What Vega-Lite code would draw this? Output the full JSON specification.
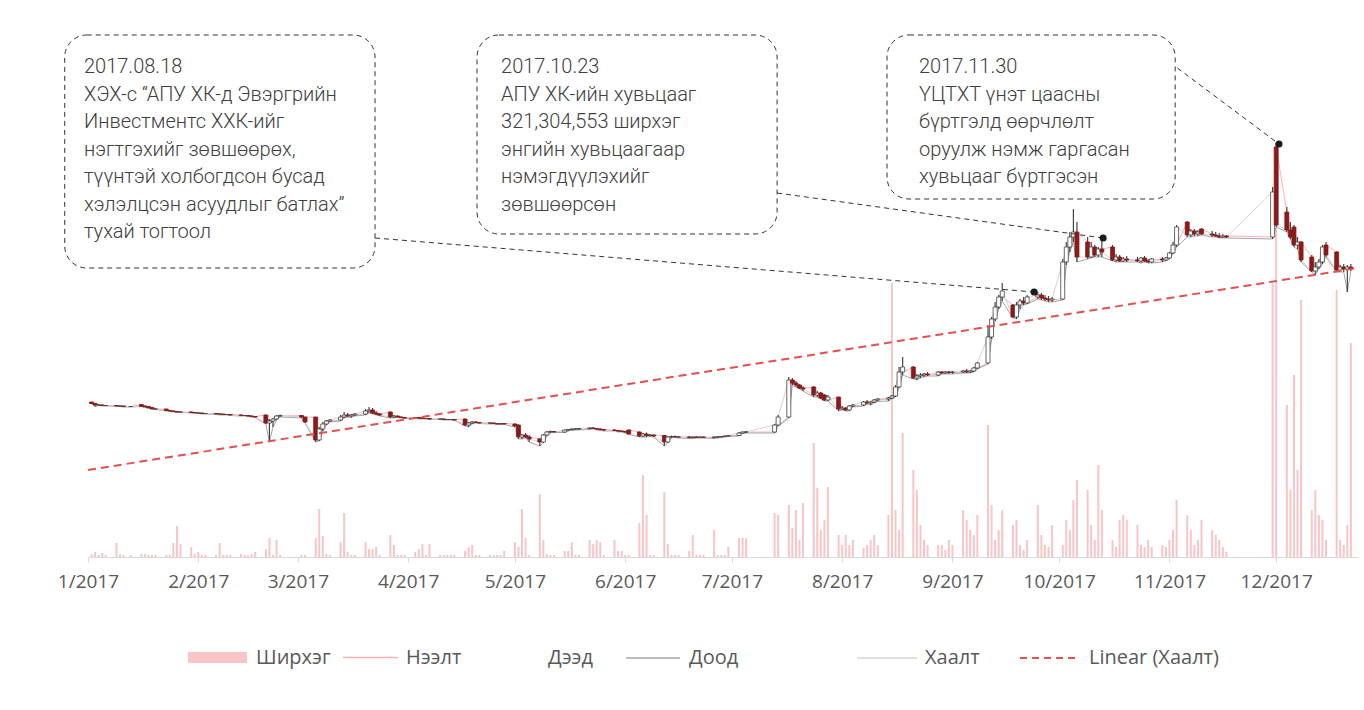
{
  "$schema": "https://vega.github.io/schema/vega-lite/v6.json",
  "autosize": {"type": "none"},
  "width": 1270,
  "height": 537,
  "padding": {"left": 88, "top": 20, "right": 6, "bottom": 153},
  "background": "#ffffff",
  "config": {"view": {"stroke": null}},
  "datasets": {
    "ohlc": [
      {"d":"2017-01-02","o":1550,"h":1550,"l":1530,"c":1535,"v":300},
      {"d":"2017-01-03","o":1535,"h":1540,"l":1505,"c":1520,"v":500},
      {"d":"2017-01-04","o":1520,"h":1530,"l":1515,"c":1520,"v":200},
      {"d":"2017-01-05","o":1520,"h":1525,"l":1510,"c":1515,"v":400},
      {"d":"2017-01-06","o":1515,"h":1520,"l":1510,"c":1515,"v":200},
      {"d":"2017-01-09","o":1515,"h":1520,"l":1505,"c":1510,"v":1400},
      {"d":"2017-01-10","o":1510,"h":1515,"l":1505,"c":1510,"v":300},
      {"d":"2017-01-11","o":1510,"h":1512,"l":1500,"c":1505,"v":200},
      {"d":"2017-01-13","o":1505,"h":1510,"l":1500,"c":1505,"v":200},
      {"d":"2017-01-16","o":1525,"h":1525,"l":1505,"c":1505,"v":300},
      {"d":"2017-01-17","o":1510,"h":1515,"l":1500,"c":1500,"v":300},
      {"d":"2017-01-18","o":1505,"h":1505,"l":1490,"c":1490,"v":200},
      {"d":"2017-01-19","o":1495,"h":1495,"l":1480,"c":1480,"v":200},
      {"d":"2017-01-20","o":1480,"h":1485,"l":1475,"c":1480,"v":200},
      {"d":"2017-01-23","o":1480,"h":1480,"l":1460,"c":1465,"v":200},
      {"d":"2017-01-24","o":1465,"h":1470,"l":1455,"c":1460,"v":200},
      {"d":"2017-01-25","o":1460,"h":1465,"l":1450,"c":1455,"v":1400},
      {"d":"2017-01-26","o":1455,"h":1460,"l":1445,"c":1450,"v":3100},
      {"d":"2017-01-27","o":1450,"h":1455,"l":1445,"c":1450,"v":1300},
      {"d":"2017-01-30","o":1450,"h":1455,"l":1440,"c":1445,"v":1000},
      {"d":"2017-01-31","o":1445,"h":1450,"l":1440,"c":1440,"v":300},
      {"d":"2017-02-01","o":1440,"h":1445,"l":1435,"c":1440,"v":500},
      {"d":"2017-02-02","o":1440,"h":1440,"l":1430,"c":1435,"v":200},
      {"d":"2017-02-03","o":1435,"h":1440,"l":1430,"c":1435,"v":200},
      {"d":"2017-02-06","o":1435,"h":1440,"l":1425,"c":1430,"v":200},
      {"d":"2017-02-07","o":1430,"h":1435,"l":1420,"c":1430,"v":1400},
      {"d":"2017-02-08","o":1430,"h":1430,"l":1420,"c":1425,"v":200},
      {"d":"2017-02-09","o":1425,"h":1430,"l":1420,"c":1425,"v":200},
      {"d":"2017-02-10","o":1425,"h":1425,"l":1415,"c":1420,"v":200},
      {"d":"2017-02-13","o":1420,"h":1425,"l":1410,"c":1415,"v":300},
      {"d":"2017-02-14","o":1415,"h":1420,"l":1410,"c":1415,"v":200},
      {"d":"2017-02-15","o":1415,"h":1420,"l":1405,"c":1410,"v":200},
      {"d":"2017-02-16","o":1410,"h":1415,"l":1400,"c":1405,"v":300},
      {"d":"2017-02-17","o":1405,"h":1410,"l":1395,"c":1400,"v":500},
      {"d":"2017-02-20","o":1420,"h":1425,"l":1330,"c":1340,"v":800},
      {"d":"2017-02-21","o":1340,"h":1380,"l":1150,"c":1360,"v":1900},
      {"d":"2017-02-22","o":1360,"h":1390,"l":1300,"c":1380,"v":200},
      {"d":"2017-02-23","o":1380,"h":1420,"l":1370,"c":1410,"v":1700},
      {"d":"2017-02-24","o":1410,"h":1425,"l":1400,"c":1415,"v":200},
      {"d":"2017-03-02","o":1415,"h":1420,"l":1390,"c":1400,"v":200},
      {"d":"2017-03-03","o":1400,"h":1400,"l":1340,"c":1350,"v":200},
      {"d":"2017-03-06","o":1400,"h":1400,"l":1150,"c":1170,"v":1900},
      {"d":"2017-03-07","o":1170,"h":1300,"l":1160,"c":1280,"v":4800},
      {"d":"2017-03-08","o":1280,"h":1350,"l":1260,"c":1330,"v":2100},
      {"d":"2017-03-09","o":1330,"h":1370,"l":1320,"c":1360,"v":300},
      {"d":"2017-03-10","o":1360,"h":1380,"l":1350,"c":1370,"v":200},
      {"d":"2017-03-13","o":1370,"h":1420,"l":1360,"c":1400,"v":1500},
      {"d":"2017-03-14","o":1400,"h":1450,"l":1390,"c":1420,"v":4400},
      {"d":"2017-03-15","o":1420,"h":1440,"l":1400,"c":1410,"v":500},
      {"d":"2017-03-16","o":1410,"h":1430,"l":1395,"c":1420,"v":200},
      {"d":"2017-03-17","o":1420,"h":1440,"l":1410,"c":1430,"v":200},
      {"d":"2017-03-20","o":1430,"h":1480,"l":1420,"c":1460,"v":1500},
      {"d":"2017-03-21","o":1460,"h":1500,"l":1440,"c":1470,"v":800},
      {"d":"2017-03-22","o":1470,"h":1490,"l":1430,"c":1440,"v":800},
      {"d":"2017-03-23","o":1440,"h":1460,"l":1420,"c":1430,"v":1000},
      {"d":"2017-03-24","o":1430,"h":1440,"l":1410,"c":1420,"v":200},
      {"d":"2017-03-27","o":1450,"h":1455,"l":1390,"c":1400,"v":2200},
      {"d":"2017-03-28","o":1400,"h":1420,"l":1390,"c":1410,"v":1200},
      {"d":"2017-03-29","o":1410,"h":1415,"l":1395,"c":1400,"v":200},
      {"d":"2017-03-30","o":1400,"h":1405,"l":1390,"c":1395,"v":200},
      {"d":"2017-03-31","o":1395,"h":1400,"l":1385,"c":1390,"v":200},
      {"d":"2017-04-03","o":1390,"h":1400,"l":1385,"c":1395,"v":500},
      {"d":"2017-04-04","o":1395,"h":1400,"l":1380,"c":1390,"v":800},
      {"d":"2017-04-05","o":1390,"h":1395,"l":1380,"c":1385,"v":1300},
      {"d":"2017-04-06","o":1385,"h":1390,"l":1380,"c":1385,"v":200},
      {"d":"2017-04-07","o":1385,"h":1390,"l":1375,"c":1380,"v":1300},
      {"d":"2017-04-10","o":1380,"h":1385,"l":1375,"c":1380,"v":200},
      {"d":"2017-04-11","o":1380,"h":1385,"l":1370,"c":1375,"v":200},
      {"d":"2017-04-12","o":1375,"h":1380,"l":1370,"c":1375,"v":200},
      {"d":"2017-04-13","o":1375,"h":1380,"l":1370,"c":1375,"v":200},
      {"d":"2017-04-14","o":1375,"h":1380,"l":1365,"c":1370,"v":200},
      {"d":"2017-04-17","o":1380,"h":1385,"l":1310,"c":1320,"v":600},
      {"d":"2017-04-18","o":1320,"h":1350,"l":1300,"c":1340,"v":1000},
      {"d":"2017-04-19","o":1340,"h":1360,"l":1330,"c":1350,"v":1200},
      {"d":"2017-04-20","o":1350,"h":1360,"l":1340,"c":1345,"v":200},
      {"d":"2017-04-21","o":1345,"h":1350,"l":1335,"c":1340,"v":200},
      {"d":"2017-04-24","o":1340,"h":1345,"l":1330,"c":1340,"v":200},
      {"d":"2017-04-25","o":1340,"h":1345,"l":1330,"c":1335,"v":200},
      {"d":"2017-04-26","o":1335,"h":1340,"l":1325,"c":1330,"v":200},
      {"d":"2017-04-27","o":1330,"h":1340,"l":1325,"c":1335,"v":200},
      {"d":"2017-04-28","o":1335,"h":1340,"l":1325,"c":1330,"v":600},
      {"d":"2017-05-01","o":1330,"h":1335,"l":1300,"c":1310,"v":1500},
      {"d":"2017-05-02","o":1320,"h":1325,"l":1180,"c":1200,"v":1000},
      {"d":"2017-05-03","o":1200,"h":1230,"l":1180,"c":1220,"v":4800},
      {"d":"2017-05-04","o":1220,"h":1240,"l":1190,"c":1200,"v":1900},
      {"d":"2017-05-05","o":1200,"h":1220,"l":1150,"c":1180,"v":200},
      {"d":"2017-05-08","o":1180,"h":1190,"l":1110,"c":1150,"v":6300},
      {"d":"2017-05-09","o":1150,"h":1230,"l":1140,"c":1220,"v":1700},
      {"d":"2017-05-10","o":1220,"h":1260,"l":1210,"c":1250,"v":300},
      {"d":"2017-05-11","o":1250,"h":1265,"l":1240,"c":1255,"v":200},
      {"d":"2017-05-12","o":1255,"h":1260,"l":1245,"c":1250,"v":200},
      {"d":"2017-05-15","o":1250,"h":1275,"l":1245,"c":1270,"v":600},
      {"d":"2017-05-16","o":1270,"h":1280,"l":1260,"c":1275,"v":600},
      {"d":"2017-05-17","o":1275,"h":1285,"l":1265,"c":1280,"v":1500},
      {"d":"2017-05-18","o":1280,"h":1285,"l":1270,"c":1280,"v":200},
      {"d":"2017-05-19","o":1280,"h":1290,"l":1270,"c":1285,"v":200},
      {"d":"2017-05-22","o":1285,"h":1295,"l":1275,"c":1290,"v":1700},
      {"d":"2017-05-23","o":1290,"h":1300,"l":1280,"c":1285,"v":1300},
      {"d":"2017-05-24","o":1285,"h":1290,"l":1270,"c":1280,"v":1700},
      {"d":"2017-05-25","o":1280,"h":1285,"l":1265,"c":1275,"v":1500},
      {"d":"2017-05-26","o":1275,"h":1280,"l":1260,"c":1270,"v":200},
      {"d":"2017-05-29","o":1270,"h":1280,"l":1260,"c":1265,"v":1700},
      {"d":"2017-05-30","o":1265,"h":1270,"l":1250,"c":1260,"v":600},
      {"d":"2017-05-31","o":1260,"h":1265,"l":1250,"c":1255,"v":600},
      {"d":"2017-06-01","o":1255,"h":1260,"l":1240,"c":1250,"v":200},
      {"d":"2017-06-02","o":1270,"h":1275,"l":1225,"c":1230,"v":200},
      {"d":"2017-06-05","o":1250,"h":1255,"l":1200,"c":1210,"v":3400},
      {"d":"2017-06-06","o":1210,"h":1240,"l":1200,"c":1230,"v":8200},
      {"d":"2017-06-07","o":1230,"h":1245,"l":1200,"c":1215,"v":4200},
      {"d":"2017-06-08","o":1215,"h":1230,"l":1205,"c":1220,"v":200},
      {"d":"2017-06-09","o":1220,"h":1225,"l":1200,"c":1210,"v":200},
      {"d":"2017-06-12","o":1215,"h":1220,"l":1110,"c":1150,"v":6500},
      {"d":"2017-06-13","o":1150,"h":1210,"l":1140,"c":1200,"v":1300},
      {"d":"2017-06-14","o":1200,"h":1215,"l":1190,"c":1205,"v":200},
      {"d":"2017-06-15","o":1205,"h":1215,"l":1195,"c":1200,"v":200},
      {"d":"2017-06-16","o":1200,"h":1210,"l":1190,"c":1200,"v":200},
      {"d":"2017-06-19","o":1200,"h":1210,"l":1185,"c":1195,"v":600},
      {"d":"2017-06-20","o":1195,"h":1205,"l":1185,"c":1200,"v":2200},
      {"d":"2017-06-21","o":1200,"h":1210,"l":1190,"c":1195,"v":200},
      {"d":"2017-06-22","o":1195,"h":1205,"l":1190,"c":1200,"v":200},
      {"d":"2017-06-23","o":1200,"h":1205,"l":1190,"c":1195,"v":200},
      {"d":"2017-06-26","o":1195,"h":1205,"l":1185,"c":1200,"v":2700},
      {"d":"2017-06-27","o":1200,"h":1210,"l":1190,"c":1200,"v":200},
      {"d":"2017-06-28","o":1200,"h":1210,"l":1195,"c":1205,"v":200},
      {"d":"2017-06-29","o":1205,"h":1215,"l":1200,"c":1210,"v":200},
      {"d":"2017-06-30","o":1210,"h":1220,"l":1205,"c":1215,"v":1000},
      {"d":"2017-07-03","o":1215,"h":1250,"l":1210,"c":1240,"v":1900},
      {"d":"2017-07-04","o":1240,"h":1255,"l":1235,"c":1250,"v":1900},
      {"d":"2017-07-05","o":1250,"h":1260,"l":1240,"c":1250,"v":1900},
      {"d":"2017-07-13","o":1250,"h":1330,"l":1240,"c":1320,"v":4400},
      {"d":"2017-07-14","o":1320,"h":1420,"l":1310,"c":1400,"v":4200},
      {"d":"2017-07-17","o":1400,"h":1800,"l":1390,"c":1770,"v":5200},
      {"d":"2017-07-18","o":1770,"h":1790,"l":1720,"c":1740,"v":2900},
      {"d":"2017-07-19","o":1740,"h":1760,"l":1700,"c":1720,"v":4700},
      {"d":"2017-07-20","o":1720,"h":1730,"l":1680,"c":1690,"v":1700},
      {"d":"2017-07-21","o":1690,"h":1710,"l":1660,"c":1680,"v":5400},
      {"d":"2017-07-24","o":1700,"h":1710,"l":1600,"c":1620,"v":11400},
      {"d":"2017-07-25","o":1620,"h":1660,"l":1600,"c":1640,"v":6900},
      {"d":"2017-07-26","o":1640,"h":1650,"l":1580,"c":1590,"v":2700},
      {"d":"2017-07-27","o":1620,"h":1630,"l":1560,"c":1570,"v":3700},
      {"d":"2017-07-28","o":1570,"h":1620,"l":1560,"c":1600,"v":7000},
      {"d":"2017-07-31","o":1600,"h":1600,"l":1460,"c":1480,"v":2200},
      {"d":"2017-08-01","o":1480,"h":1510,"l":1470,"c":1490,"v":1200},
      {"d":"2017-08-02","o":1490,"h":1500,"l":1460,"c":1470,"v":2200},
      {"d":"2017-08-03","o":1470,"h":1520,"l":1460,"c":1510,"v":1200},
      {"d":"2017-08-04","o":1510,"h":1530,"l":1500,"c":1520,"v":1700},
      {"d":"2017-08-07","o":1520,"h":1560,"l":1510,"c":1550,"v":900},
      {"d":"2017-08-08","o":1550,"h":1570,"l":1530,"c":1540,"v":1200},
      {"d":"2017-08-09","o":1540,"h":1560,"l":1520,"c":1550,"v":1700},
      {"d":"2017-08-10","o":1550,"h":1580,"l":1540,"c":1570,"v":2200},
      {"d":"2017-08-11","o":1570,"h":1590,"l":1555,"c":1580,"v":1200},
      {"d":"2017-08-14","o":1580,"h":1600,"l":1560,"c":1590,"v":4200},
      {"d":"2017-08-15","o":1590,"h":1620,"l":1580,"c":1610,"v":27400},
      {"d":"2017-08-16","o":1610,"h":1720,"l":1600,"c":1700,"v":4700},
      {"d":"2017-08-17","o":1700,"h":1900,"l":1690,"c":1850,"v":2700},
      {"d":"2017-08-18","o":1850,"h":2000,"l":1820,"c":1900,"v":12400},
      {"d":"2017-08-21","o":1900,"h":1910,"l":1780,"c":1790,"v":8700},
      {"d":"2017-08-22","o":1790,"h":1830,"l":1770,"c":1810,"v":6700},
      {"d":"2017-08-23","o":1810,"h":1840,"l":1790,"c":1820,"v":3200},
      {"d":"2017-08-24","o":1820,"h":1840,"l":1800,"c":1830,"v":1700},
      {"d":"2017-08-25","o":1830,"h":1850,"l":1810,"c":1820,"v":1200},
      {"d":"2017-08-28","o":1820,"h":1860,"l":1810,"c":1850,"v":1200},
      {"d":"2017-08-29","o":1850,"h":1860,"l":1830,"c":1840,"v":1200},
      {"d":"2017-08-30","o":1840,"h":1860,"l":1830,"c":1850,"v":700},
      {"d":"2017-08-31","o":1850,"h":1860,"l":1830,"c":1845,"v":1700},
      {"d":"2017-09-01","o":1845,"h":1860,"l":1830,"c":1850,"v":1200},
      {"d":"2017-09-04","o":1850,"h":1870,"l":1840,"c":1860,"v":4700},
      {"d":"2017-09-05","o":1860,"h":1880,"l":1840,"c":1850,"v":3700},
      {"d":"2017-09-06","o":1850,"h":1870,"l":1840,"c":1860,"v":2700},
      {"d":"2017-09-07","o":1860,"h":1900,"l":1850,"c":1890,"v":2200},
      {"d":"2017-09-08","o":1890,"h":1950,"l":1880,"c":1940,"v":4200},
      {"d":"2017-09-11","o":1940,"h":2320,"l":1930,"c":2200,"v":13200},
      {"d":"2017-09-12","o":2200,"h":2400,"l":2180,"c":2380,"v":5200},
      {"d":"2017-09-13","o":2380,"h":2550,"l":2360,"c":2500,"v":1700},
      {"d":"2017-09-14","o":2500,"h":2620,"l":2480,"c":2600,"v":2700},
      {"d":"2017-09-15","o":2600,"h":2740,"l":2560,"c":2660,"v":4700},
      {"d":"2017-09-18","o":2520,"h":2530,"l":2390,"c":2400,"v":3200},
      {"d":"2017-09-19","o":2400,"h":2550,"l":2380,"c":2520,"v":3700},
      {"d":"2017-09-20","o":2520,"h":2580,"l":2480,"c":2560,"v":1200},
      {"d":"2017-09-21","o":2560,"h":2600,"l":2520,"c":2540,"v":700},
      {"d":"2017-09-22","o":2540,"h":2620,"l":2530,"c":2600,"v":1700},
      {"d":"2017-09-25","o":2600,"h":2650,"l":2580,"c":2620,"v":5200},
      {"d":"2017-09-26","o":2620,"h":2640,"l":2570,"c":2590,"v":2200},
      {"d":"2017-09-27","o":2590,"h":2620,"l":2560,"c":2580,"v":1200},
      {"d":"2017-09-28","o":2580,"h":2610,"l":2550,"c":2570,"v":1000},
      {"d":"2017-09-29","o":2570,"h":2600,"l":2550,"c":2580,"v":3200},
      {"d":"2017-10-02","o":2580,"h":2980,"l":2570,"c":2950,"v":1200},
      {"d":"2017-10-03","o":2950,"h":3150,"l":2920,"c":3100,"v":3700},
      {"d":"2017-10-04","o":3100,"h":3250,"l":3050,"c":3200,"v":2700},
      {"d":"2017-10-05","o":3200,"h":3480,"l":3150,"c":3250,"v":5700},
      {"d":"2017-10-06","o":3250,"h":3350,"l":2950,"c":3000,"v":7700},
      {"d":"2017-10-09","o":3150,"h":3200,"l":2980,"c":3000,"v":6700},
      {"d":"2017-10-10","o":3000,"h":3150,"l":2990,"c":3100,"v":3200},
      {"d":"2017-10-11","o":3100,"h":3120,"l":3000,"c":3020,"v":1700},
      {"d":"2017-10-12","o":3020,"h":3100,"l":3000,"c":3080,"v":9200},
      {"d":"2017-10-13","o":3080,"h":3190,"l":3000,"c":3050,"v":4700},
      {"d":"2017-10-16","o":3100,"h":3120,"l":2960,"c":2970,"v":1700},
      {"d":"2017-10-17","o":2970,"h":3030,"l":2950,"c":3000,"v":1000},
      {"d":"2017-10-18","o":3000,"h":3020,"l":2950,"c":2960,"v":3700},
      {"d":"2017-10-19","o":2960,"h":3000,"l":2950,"c":2980,"v":4200},
      {"d":"2017-10-20","o":2980,"h":3010,"l":2950,"c":2970,"v":3700},
      {"d":"2017-10-23","o":2970,"h":3000,"l":2950,"c":2960,"v":3200},
      {"d":"2017-10-24","o":2960,"h":3000,"l":2940,"c":2990,"v":1200},
      {"d":"2017-10-25","o":2990,"h":3010,"l":2950,"c":2960,"v":1000},
      {"d":"2017-10-26","o":2960,"h":2980,"l":2940,"c":2950,"v":1700},
      {"d":"2017-10-27","o":2950,"h":2990,"l":2940,"c":2980,"v":1000},
      {"d":"2017-10-30","o":2980,"h":3000,"l":2950,"c":2970,"v":1200},
      {"d":"2017-10-31","o":2970,"h":3000,"l":2960,"c":2990,"v":1000},
      {"d":"2017-11-01","o":2990,"h":3050,"l":2980,"c":3040,"v":1700},
      {"d":"2017-11-02","o":3040,"h":3150,"l":3030,"c":3120,"v":2700},
      {"d":"2017-11-03","o":3120,"h":3320,"l":3100,"c":3300,"v":5700},
      {"d":"2017-11-06","o":3350,"h":3360,"l":3200,"c":3220,"v":4200},
      {"d":"2017-11-07","o":3220,"h":3280,"l":3200,"c":3260,"v":2700},
      {"d":"2017-11-08","o":3260,"h":3280,"l":3210,"c":3230,"v":1200},
      {"d":"2017-11-09","o":3230,"h":3270,"l":3210,"c":3250,"v":1700},
      {"d":"2017-11-10","o":3280,"h":3290,"l":3220,"c":3230,"v":3700},
      {"d":"2017-11-13","o":3230,"h":3260,"l":3200,"c":3220,"v":2700},
      {"d":"2017-11-14","o":3220,"h":3250,"l":3200,"c":3210,"v":2200},
      {"d":"2017-11-15","o":3210,"h":3240,"l":3190,"c":3200,"v":1700},
      {"d":"2017-11-16","o":3200,"h":3230,"l":3190,"c":3210,"v":1000},
      {"d":"2017-11-17","o":3210,"h":3220,"l":3190,"c":3200,"v":500},
      {"d":"2017-11-30","o":3200,"h":3700,"l":3180,"c":3650,"v":27400},
      {"d":"2017-12-01","o":4100,"h":4140,"l":3300,"c":3320,"v":41400},
      {"d":"2017-12-04","o":3450,"h":3500,"l":3250,"c":3270,"v":15200},
      {"d":"2017-12-05","o":3270,"h":3350,"l":3180,"c":3200,"v":6700},
      {"d":"2017-12-06","o":3300,"h":3320,"l":3100,"c":3120,"v":18200},
      {"d":"2017-12-07","o":3120,"h":3200,"l":3080,"c":3150,"v":8700},
      {"d":"2017-12-08","o":3150,"h":3160,"l":2950,"c":2970,"v":25700},
      {"d":"2017-12-11","o":3000,"h":3020,"l":2850,"c":2860,"v":4700},
      {"d":"2017-12-12","o":2860,"h":2950,"l":2820,"c":2900,"v":6700},
      {"d":"2017-12-13","o":2900,"h":2980,"l":2880,"c":2950,"v":4200},
      {"d":"2017-12-14","o":2950,"h":3120,"l":2930,"c":3100,"v":3700},
      {"d":"2017-12-15","o":3120,"h":3150,"l":3000,"c":3020,"v":1700},
      {"d":"2017-12-18","o":3050,"h":3060,"l":2850,"c":2870,"v":26700},
      {"d":"2017-12-19","o":2870,"h":2920,"l":2850,"c":2900,"v":1700},
      {"d":"2017-12-20","o":2900,"h":2930,"l":2850,"c":2880,"v":1200},
      {"d":"2017-12-21","o":2880,"h":2920,"l":2650,"c":2900,"v":3200},
      {"d":"2017-12-22","o":2900,"h":2930,"l":2860,"c":2880,"v":21400}
    ],
    "trend": [
      {"d":"2017-01-01","p":870},
      {"d":"2017-12-24","p":2890}
    ],
    "boxes": [
      {"x1":"2016-12-25T11:00:00Z","x2":"2017-03-22T16:30:00Z","y1":5220,"y2":2890},
      {"x1":"2017-04-20T08:30:00Z","x2":"2017-07-13T17:00:00Z","y1":5220,"y2":3230},
      {"x1":"2017-08-13T14:30:00Z","x2":"2017-11-02T14:30:00Z","y1":5220,"y2":3580}
    ],
    "notes": [
      {"x":"2016-12-30T21:00:00Z","y":5000,"t":"2017.08.18\nХЭХ-с “АПУ ХК-д Эвэргрийн\nИнвестментс ХХК-ийг\nнэгтгэхийг зөвшөөрөх,\nтүүнтэй холбогдсон бусад\nхэлэлцсэн асуудлыг батлах”\nтухай тогтоол"},
      {"x":"2017-04-27T02:30:00Z","y":5000,"t":"2017.10.23\nАПУ ХК-ийн хувьцааг\n321,304,553 ширхэг\nэнгийн хувьцаагаар\nнэмэгдүүлэхийг\nзөвшөөрсөн"},
      {"x":"2017-08-22T14:30:00Z","y":5000,"t":"2017.11.30\nҮЦТХТ үнэт цаасны\nбүртгэлд өөрчлөлт\nоруулж нэмж гаргасан\nхувьцааг бүртгэсэн"}
    ],
    "links": [
      {"x1":"2017-03-22T16:30:00Z","y1":3190,"x2":"2017-09-23T23:00:00Z","y2":2650},
      {"x1":"2017-07-13T17:00:00Z","y1":3640,"x2":"2017-10-13T08:30:00Z","y2":3190},
      {"x1":"2017-11-03T05:00:00Z","y1":4890,"x2":"2017-12-01T19:00:00Z","y2":4130}
    ]
  },
  "layer": [
    {
      "data": {"name": "ohlc"},
      "mark": {"type": "bar", "width": 2},
      "encoding": {
        "x": {"field": "d", "type": "temporal",
          "scale": {"type": "utc", "domain": [1483228800000, 1514073600000], "nice": false, "padding": 0},
          "axis": {"title": null, "format": "%-m/%Y",
            "values": [
              {"year": 2017, "month": 1, "date": 1, "utc": true},
              {"year": 2017, "month": 2, "date": 1, "utc": true},
              {"year": 2017, "month": 3, "date": 1, "utc": true},
              {"year": 2017, "month": 4, "date": 1, "utc": true},
              {"year": 2017, "month": 5, "date": 1, "utc": true},
              {"year": 2017, "month": 6, "date": 1, "utc": true},
              {"year": 2017, "month": 7, "date": 1, "utc": true},
              {"year": 2017, "month": 8, "date": 1, "utc": true},
              {"year": 2017, "month": 9, "date": 1, "utc": true},
              {"year": 2017, "month": 10, "date": 1, "utc": true},
              {"year": 2017, "month": 11, "date": 1, "utc": true},
              {"year": 2017, "month": 12, "date": 1, "utc": true}
            ],
            "labelFlush": false, "labelOverlap": false, "grid": false, "domain": true, "ticks": true,
            "domainColor": "#d9d9d9", "tickColor": "#d9d9d9", "tickSize": 5,
            "labelFont": "Open Sans", "labelFontSize": 19, "labelColor": "#595959", "labelPadding": 10}},
        "y": {"field": "v", "type": "quantitative", "scale": {"domain": [0, 53700], "nice": false, "padding": 0}, "axis": null},
        "color": {"datum": "Ширхэг", "scale": {"range": ["#f8c5c7"]},
          "legend": {"orient": "none", "legendX": 99, "legendY": 607, "title": null,
            "symbolType": "M-1,-0.19H1V0.19H-1Z", "symbolSize": 3481,
            "labelFont": "Open Sans", "labelFontSize": 20, "labelColor": "#595959", "labelOffset": 8}}
      }
    },
    {
      "data": {"name": "ohlc"},
      "mark": {"type": "line", "strokeWidth": 1},
      "encoding": {
        "x": {"field": "d", "type": "temporal", "scale": {"type": "utc", "domain": [1483228800000, 1514073600000], "nice": false, "padding": 0}},
        "y": {"field": "o", "type": "quantitative", "scale": {"domain": [0, 5370], "nice": false, "padding": 0}, "axis": null},
        "color": {"datum": "Нээлт", "scale": {"range": ["#f4b4b4"]},
          "legend": {"orient": "none", "legendX": 254, "legendY": 609, "title": null,
            "symbolType": "stroke", "symbolSize": 3025, "symbolStrokeWidth": 1.5,
            "labelFont": "Open Sans", "labelFontSize": 20, "labelColor": "#595959", "labelOffset": 7}}
      }
    },
    {
      "data": {"name": "ohlc"},
      "mark": {"type": "line", "strokeWidth": 1},
      "encoding": {
        "x": {"field": "d", "type": "temporal", "scale": {"type": "utc", "domain": [1483228800000, 1514073600000], "nice": false, "padding": 0}},
        "y": {"field": "l", "type": "quantitative", "scale": {"domain": [0, 5370], "nice": false, "padding": 0}, "axis": null},
        "color": {"datum": "Доод", "scale": {"range": ["#a6a6a6"]},
          "legend": {"orient": "none", "legendX": 537, "legendY": 610, "title": null,
            "symbolType": "stroke", "symbolSize": 2916, "symbolStrokeWidth": 1.5,
            "labelFont": "Open Sans", "labelFontSize": 20, "labelColor": "#595959", "labelOffset": 8}}
      }
    },
    {
      "data": {"name": "ohlc"},
      "mark": {"type": "line", "strokeWidth": 1},
      "encoding": {
        "x": {"field": "d", "type": "temporal", "scale": {"type": "utc", "domain": [1483228800000, 1514073600000], "nice": false, "padding": 0}},
        "y": {"field": "c", "type": "quantitative", "scale": {"domain": [0, 5370], "nice": false, "padding": 0}, "axis": null},
        "color": {"datum": "Хаалт", "scale": {"range": ["#d4d4d4"]},
          "legend": {"orient": "none", "legendX": 768, "legendY": 607, "title": null,
            "symbolType": "stroke", "symbolSize": 3600, "symbolStrokeWidth": 1.5,
            "labelFont": "Open Sans", "labelFontSize": 20, "labelColor": "#595959", "labelOffset": 7}}
      }
    },
    {
      "data": {"name": "ohlc"},
      "mark": {"type": "rule", "strokeWidth": 1.2},
      "encoding": {
        "x": {"field": "d", "type": "temporal", "scale": {"type": "utc", "domain": [1483228800000, 1514073600000], "nice": false, "padding": 0}},
        "y": {"field": "l", "type": "quantitative", "scale": {"domain": [0, 5370], "nice": false, "padding": 0}, "axis": null},
        "y2": {"field": "h"},
        "color": {"datum": "Дээд", "scale": {"range": ["#444444"]},
          "legend": {"orient": "none", "legendX": 396, "legendY": 609, "title": null,
            "symbolType": "stroke", "symbolSize": 3025, "symbolOpacity": 0,
            "labelFont": "Open Sans", "labelFontSize": 20, "labelColor": "#595959", "labelOffset": 7}}
      }
    },
    {
      "data": {"name": "ohlc"},
      "mark": {"type": "bar", "width": 4, "strokeWidth": 0.8},
      "encoding": {
        "x": {"field": "d", "type": "temporal", "scale": {"type": "utc", "domain": [1483228800000, 1514073600000], "nice": false, "padding": 0}},
        "y": {"field": "o", "type": "quantitative", "scale": {"domain": [0, 5370], "nice": false, "padding": 0}, "axis": null},
        "y2": {"field": "c"},
        "fill": {"condition": {"test": "datum.c < datum.o", "value": "#8b1a1a"}, "value": "#ffffff"},
        "stroke": {"condition": {"test": "datum.c < datum.o", "value": "#8b1a1a"}, "value": "#444444"}
      }
    },
    {
      "data": {"name": "trend"},
      "mark": {"type": "line", "strokeWidth": 2, "strokeDash": [8, 5]},
      "encoding": {
        "x": {"field": "d", "type": "temporal", "scale": {"type": "utc", "domain": [1483228800000, 1514073600000], "nice": false, "padding": 0}},
        "y": {"field": "p", "type": "quantitative", "scale": {"domain": [0, 5370], "nice": false, "padding": 0}, "axis": null},
        "color": {"datum": "Linear (Хаалт)", "scale": {"range": ["#e5504f"]},
          "legend": {"orient": "none", "legendX": 931, "legendY": 607, "title": null,
            "symbolType": "stroke", "symbolSize": 3600, "symbolStrokeWidth": 2, "symbolDash": [7, 5],
            "labelFont": "Open Sans", "labelFontSize": 20, "labelColor": "#595959", "labelOffset": 8}}
      }
    },
    {
      "data": {"name": "boxes"},
      "mark": {"type": "rect", "cornerRadius": 22, "fill": "#ffffff", "stroke": "#333333", "strokeWidth": 1, "strokeDash": [5, 4]},
      "encoding": {
        "x": {"field": "x1", "type": "temporal", "scale": {"type": "utc", "domain": [1483228800000, 1514073600000], "nice": false, "padding": 0}},
        "x2": {"field": "x2"},
        "y": {"field": "y1", "type": "quantitative", "scale": {"domain": [0, 5370], "nice": false, "padding": 0}, "axis": null},
        "y2": {"field": "y2"}
      }
    },
    {
      "data": {"name": "links"},
      "mark": {"type": "rule", "color": "#333333", "strokeWidth": 1, "strokeDash": [5, 4]},
      "encoding": {
        "x": {"field": "x1", "type": "temporal", "scale": {"type": "utc", "domain": [1483228800000, 1514073600000], "nice": false, "padding": 0}},
        "x2": {"field": "x2"},
        "y": {"field": "y1", "type": "quantitative", "scale": {"domain": [0, 5370], "nice": false, "padding": 0}, "axis": null},
        "y2": {"field": "y2"}
      }
    },
    {
      "data": {"name": "links"},
      "mark": {"type": "point", "filled": true, "color": "#1a1a1a", "size": 50, "opacity": 1},
      "encoding": {
        "x": {"field": "x2", "type": "temporal", "scale": {"type": "utc", "domain": [1483228800000, 1514073600000], "nice": false, "padding": 0}},
        "y": {"field": "y2", "type": "quantitative", "scale": {"domain": [0, 5370], "nice": false, "padding": 0}, "axis": null}
      }
    },
    {
      "data": {"name": "notes"},
      "mark": {"type": "text", "align": "left", "baseline": "top", "lineBreak": "\n", "lineHeight": 27.5,
        "font": "Roboto", "fontWeight": 300, "fontSize": 20, "color": "#404040"},
      "encoding": {
        "x": {"field": "x", "type": "temporal", "scale": {"type": "utc", "domain": [1483228800000, 1514073600000], "nice": false, "padding": 0}},
        "y": {"field": "y", "type": "quantitative", "scale": {"domain": [0, 5370], "nice": false, "padding": 0}, "axis": null},
        "text": {"field": "t", "type": "nominal"}
      }
    }
  ],
  "resolve": {"scale": {"y": "independent", "color": "independent"}, "legend": {"color": "independent"}}
}
